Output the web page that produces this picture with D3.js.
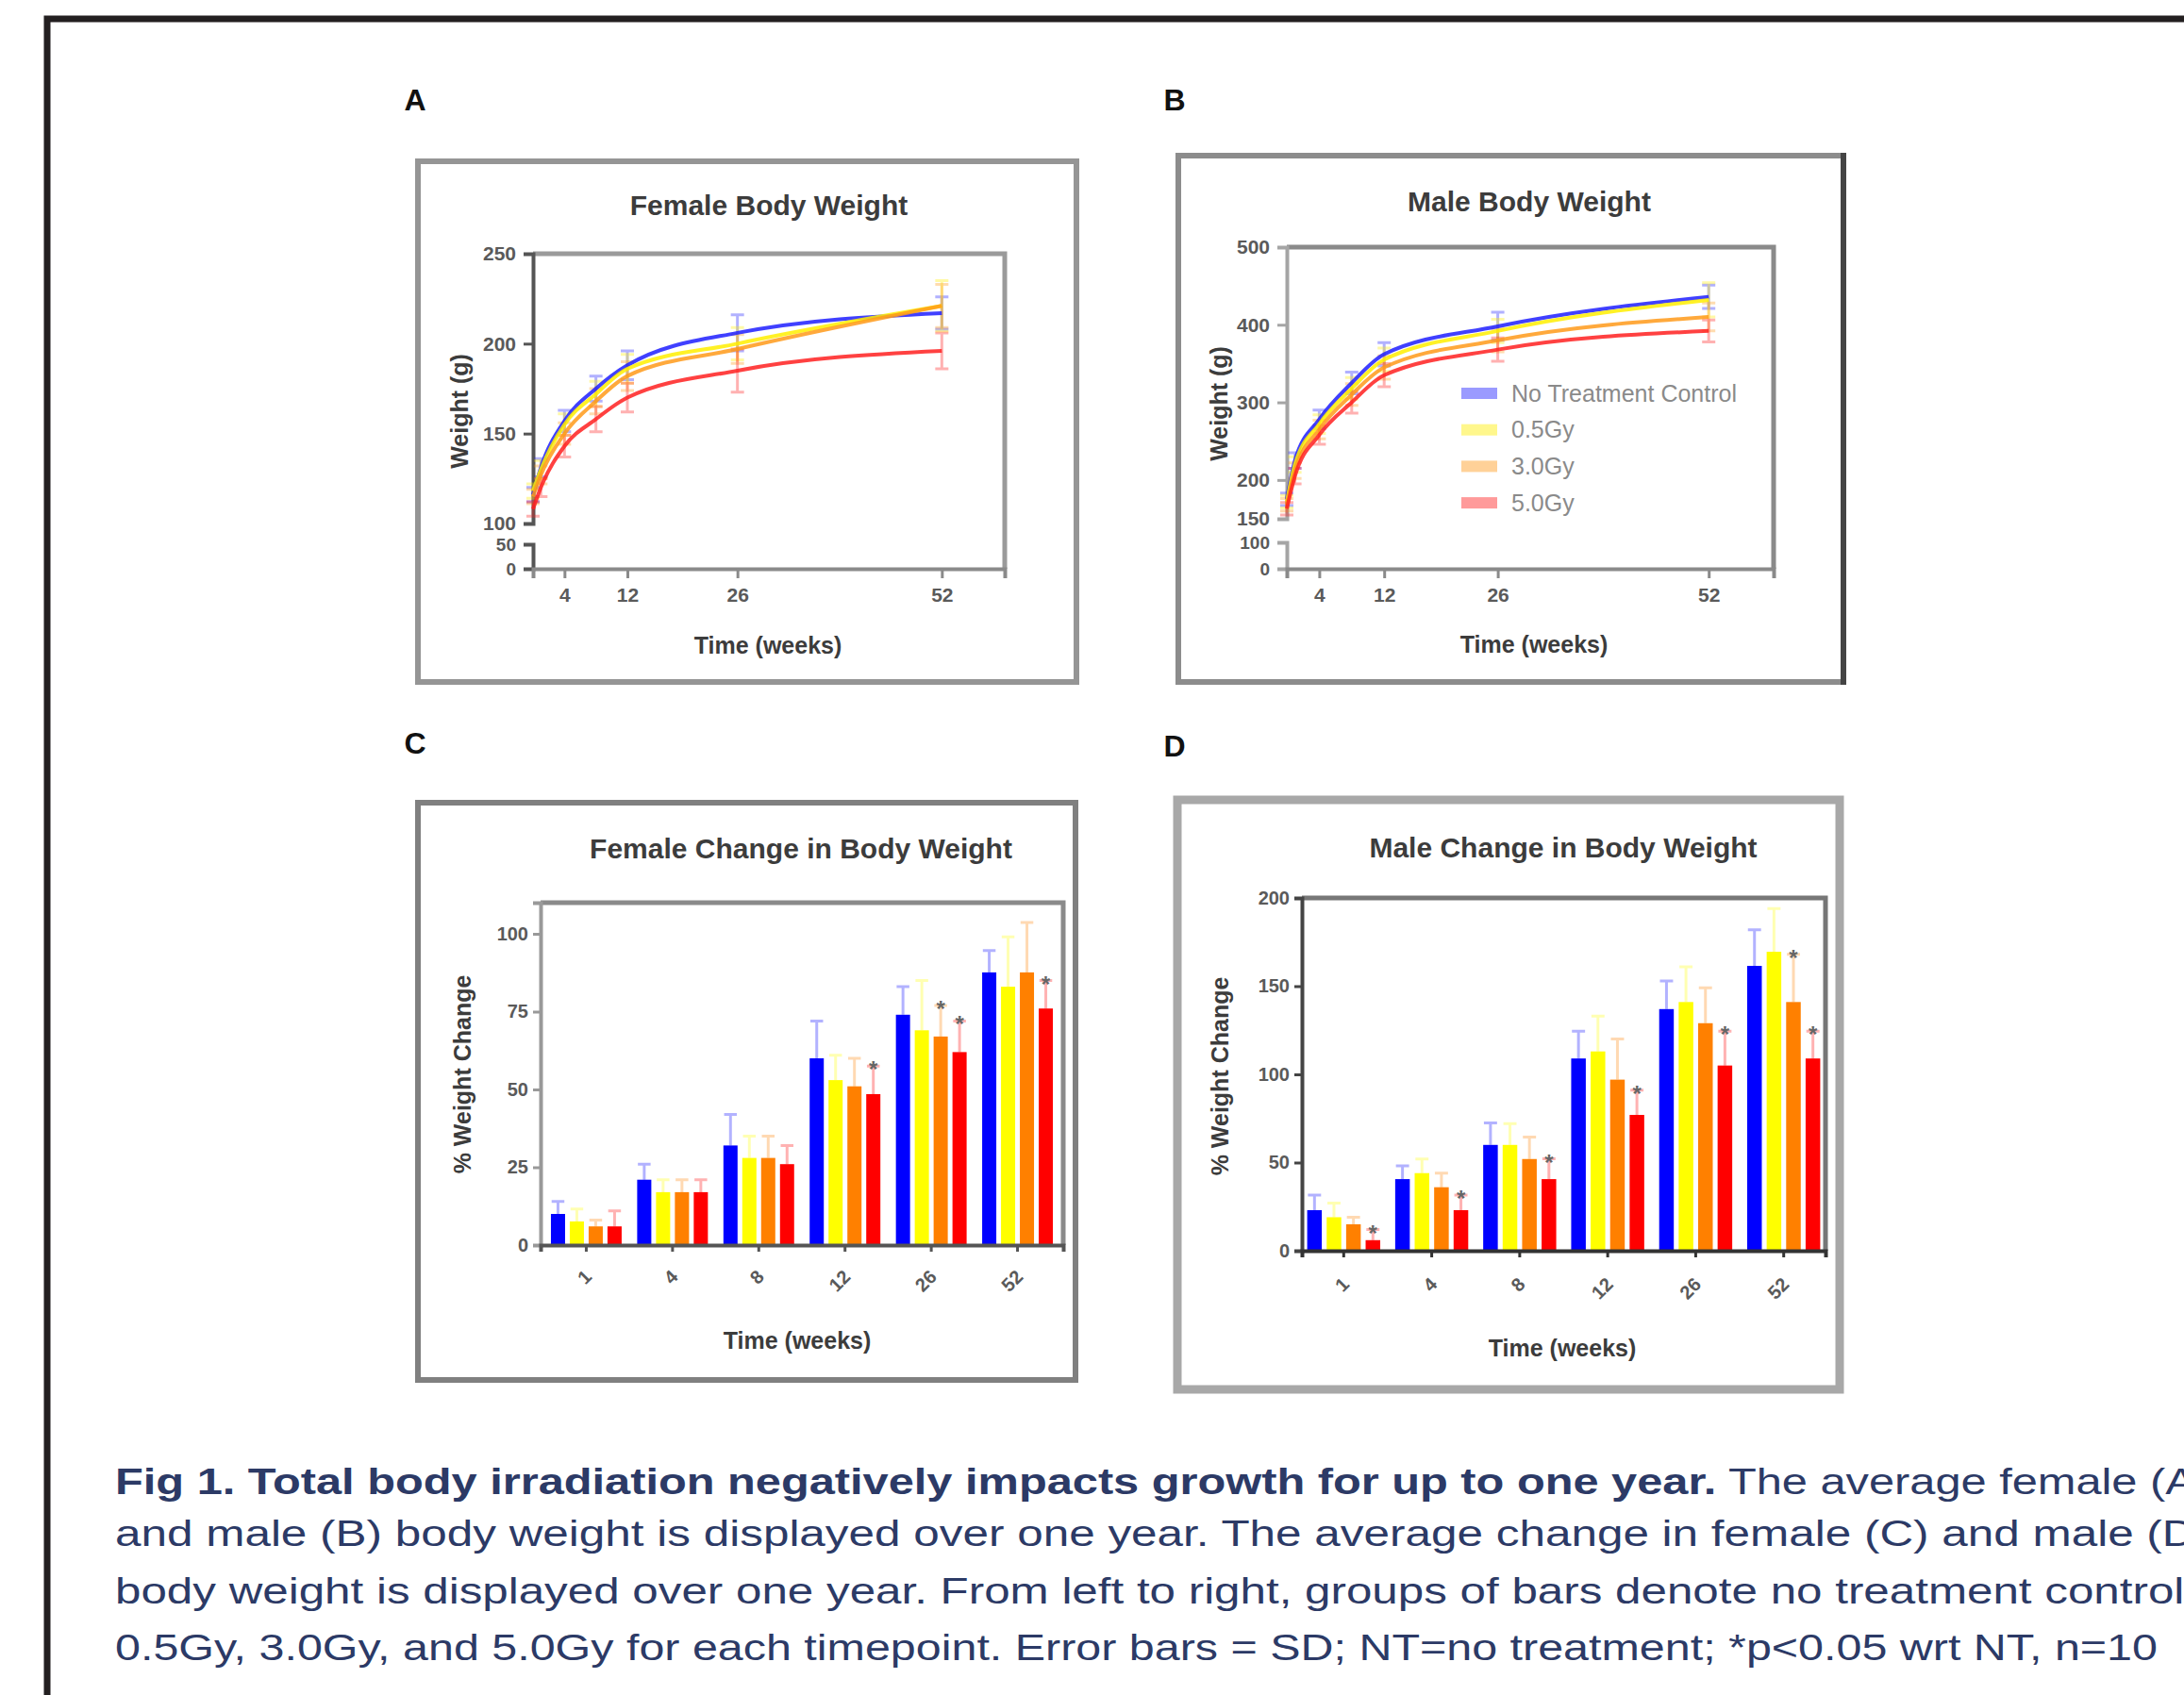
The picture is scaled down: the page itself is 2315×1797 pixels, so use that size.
<!DOCTYPE html>
<html>
<head>
<meta charset="utf-8">
<script src="https://cdn.jsdelivr.net/npm/d3@7"></script>
<style>
  body { margin: 0; background: #fff; }
  svg { display: block; }
  text { font-family: "Liberation Sans", Arial, sans-serif; }
</style>
</head>
<body>
<svg id="fig" width="2315" height="1797"></svg>
<script>
// ---- data ----
var groupNames = ["No Treatment Control", "0.5Gy", "3.0Gy", "5.0Gy"];
var groupColors = ["#1f1fff", "#ffee00", "#ff9a1a", "#ff2020"];
var barColors = ["#0000ff", "#ffff00", "#ff8000", "#ff0000"];

// body weight (g) at each week, one array per group
var lineWeeks = [0, 1, 4, 8, 12, 26, 52];
var weekTicks = [4, 12, 26, 52];
var femaleWeight = [
  [116, 131, 157, 175, 188, 206, 217],
  [118, 130, 155, 172, 186, 200, 221],
  [115, 127, 150, 168, 182, 197, 221],
  [108, 120, 143, 158, 170, 185, 196]
];
var femaleWeightSD = [
  [4, 5, 6, 7, 8, 10, 9],
  [4, 5, 6, 7, 8, 9, 14],
  [4, 5, 6, 7, 8, 8, 12],
  [4, 5, 6, 7, 8, 12, 10]
];
var maleWeight = [
  [175, 225, 278, 325, 362, 398, 436],
  [172, 220, 272, 318, 355, 392, 432],
  [168, 212, 265, 310, 345, 380, 410],
  [163, 205, 258, 300, 335, 368, 392]
];
var maleWeightSD = [
  [8, 10, 12, 14, 15, 18, 15],
  [8, 10, 12, 14, 15, 15, 22],
  [8, 10, 12, 14, 15, 15, 18],
  [8, 10, 12, 14, 15, 15, 14]
];

// % weight change per time point, one array per group
var barWeeks = ["1", "4", "8", "12", "26", "52"];
var femaleChange = [
  [10, 21, 32, 60, 74, 87.6],
  [7.6, 17, 28, 53, 69, 83],
  [6, 17, 28, 51, 67, 87.6],
  [6, 17, 26, 48.5, 62, 76]
];
var femaleChangeSD = [
  [4, 5, 10, 12, 9, 7],
  [4, 4, 7, 8, 16, 16],
  [2, 4, 7, 9, 10, 16],
  [5, 4, 6, 9, 10, 9]
];
var femaleStars = [
  [0, 0, 0, 0, 0, 0],
  [0, 0, 0, 0, 0, 0],
  [0, 0, 0, 0, 1, 0],
  [0, 0, 0, 1, 1, 1]
];
var maleChange = [
  [23, 40.6, 60, 109, 137, 161.5],
  [19, 44, 60, 113, 141, 169.5],
  [15, 36, 52, 97, 129, 141],
  [6, 23, 40.6, 77, 105, 109]
];
var maleChangeSD = [
  [8.5, 7.5, 12.5, 15.5, 16, 20.5],
  [8, 8, 12, 20, 20, 24.5],
  [4, 8, 12.5, 23, 20, 27],
  [6, 8.5, 11.5, 14, 19.5, 15.5]
];
var maleStars = [
  [0, 0, 0, 0, 0, 0],
  [0, 0, 0, 0, 0, 0],
  [0, 0, 0, 0, 0, 1],
  [1, 1, 1, 1, 1, 1]
];

var captionLines = [
  [["Fig 1.  Total body irradiation negatively impacts growth for up to one year.", "bold"], [" The average female (A)", "normal"]],
  [["and male (B) body weight is displayed over one year.  The average change in female (C) and male (D)", "normal"]],
  [["body weight is displayed over one year. From left to right, groups of bars denote no treatment control,", "normal"]],
  [["0.5Gy, 3.0Gy, and 5.0Gy for each timepoint. Error bars = SD; NT=no treatment; *p<0.05 wrt NT,  n=10", "normal"]]
];

var svg = d3.select("#fig");

// outer frame (runs off the right and bottom edge)
svg.append("rect")
  .attr("x", 50).attr("y", 20).attr("width", 2400).attr("height", 2000)
  .attr("fill", "none").attr("stroke", "#231f20").attr("stroke-width", 7);

function box(x0, y0, x1, y1, stroke, w) {
  svg.append("rect")
    .attr("x", x0).attr("y", y0).attr("width", x1 - x0).attr("height", y1 - y0)
    .attr("fill", "none").attr("stroke", stroke).attr("stroke-width", w);
}

box(443, 171, 1141, 723, "#959595", 6);
box(1249, 165, 1954, 723, "#8c8c8c", 6);
svg.append("line").attr("x1", 1954).attr("x2", 1954).attr("y1", 162).attr("y2", 726)
  .attr("stroke", "#444").attr("stroke-width", 6);
box(443, 851, 1140, 1463, "#808080", 6);
box(1248, 848, 1950, 1473, "#a8a8a8", 9);

// panel letters
[["A", 440, 117], ["B", 1245, 117], ["C", 440, 799], ["D", 1245, 802]].forEach(function(p) {
  svg.append("text").attr("x", p[1]).attr("y", p[2]).attr("text-anchor", "middle")
    .attr("font-size", 32).attr("font-weight", "bold").attr("fill", "#111").text(p[0]);
});

function styleAxis(g, color, size) {
  g.select(".domain").attr("stroke", color).attr("stroke-width", 4);
  g.selectAll(".tick line").attr("stroke", color).attr("stroke-width", 3);
  g.selectAll(".tick text").attr("fill", "#5a5a5a").attr("font-size", size)
    .attr("font-weight", "bold").attr("font-family", '"Liberation Sans", Arial, sans-serif');
}

function titles(o) {
  svg.append("text").attr("x", o.titleX).attr("y", o.titleY).attr("text-anchor", "middle")
    .attr("font-size", 30).attr("font-weight", "bold").attr("fill", "#3c3c3c").text(o.title);
  svg.append("text").attr("x", o.xTitleX).attr("y", o.xTitleY).attr("text-anchor", "middle")
    .attr("font-size", 25).attr("font-weight", "bold").attr("fill", "#3c3c3c").text("Time (weeks)");
  svg.append("text").attr("transform", "translate(" + o.yTitleX + "," + o.yTitleY + ") rotate(-90)")
    .attr("text-anchor", "middle").attr("dy", "0.35em")
    .attr("font-size", 25).attr("font-weight", "bold").attr("fill", "#3c3c3c").text(o.yTitle);
}

function linePanel(o, values, sds) {
  var g = svg.append("g");
  var x = d3.scaleLinear().domain([0, 60]).range([o.left, o.right]);
  var yUp = d3.scaleLinear().domain(o.upDomain).range([o.upBottom, o.top]);
  var yLow = d3.scaleLinear().domain(o.lowDomain).range([o.bottom, o.lowTop]);

  // top and right frame
  g.append("path")
    .attr("d", "M" + o.left + "," + o.top + "H" + o.right + "V" + o.bottom)
    .attr("fill", "none").attr("stroke", o.frame).attr("stroke-width", 5);

  var ay = g.append("g").attr("transform", "translate(" + o.left + ",0)")
    .call(d3.axisLeft(yUp).tickValues(o.upTicks).tickSizeOuter(0).tickSize(10).tickPadding(8));
  styleAxis(ay, o.axis, 21);
  var ay2 = g.append("g").attr("transform", "translate(" + o.left + ",0)")
    .call(d3.axisLeft(yLow).tickValues(o.lowTicks).tickSizeOuter(0).tickSize(10).tickPadding(8));
  styleAxis(ay2, o.axis, 19);

  var ax = g.append("g").attr("transform", "translate(0," + o.bottom + ")")
    .call(d3.axisBottom(x).tickValues(weekTicks).tickSizeOuter(0).tickSize(10).tickPadding(10));
  styleAxis(ax, "#8a8a8a", 21);

  var line = d3.line()
    .x(function(d, i) { return x(lineWeeks[i]); })
    .y(function(d) { return yUp(d); })
    .curve(d3.curveMonotoneX);

  values.forEach(function(series, s) {
    series.forEach(function(v, i) {
      var cx = x(lineWeeks[i]);
      var sd = sds[s][i];
      g.append("path")
        .attr("d", "M" + cx + "," + yUp(v - sd) + "V" + yUp(v + sd) +
          "M" + (cx - 7) + "," + yUp(v + sd) + "H" + (cx + 7) +
          "M" + (cx - 7) + "," + yUp(v - sd) + "H" + (cx + 7))
        .attr("fill", "none").attr("stroke", groupColors[s]).attr("stroke-opacity", 0.35)
        .attr("stroke-width", 3);
    });
  });
  values.forEach(function(series, s) {
    g.append("path").datum(series).attr("d", line)
      .attr("fill", "none").attr("stroke", groupColors[s]).attr("stroke-width", 4)
      .attr("stroke-opacity", 0.85);
  });
  titles(o);
  return g;
}

function barPanel(o, means, sds, stars) {
  var g = svg.append("g");
  var x0 = d3.scaleBand().domain(barWeeks).range([o.left, o.right])
    .paddingInner(o.padIn).paddingOuter(o.padOut);
  var x1 = d3.scaleBand().domain(d3.range(4)).range([0, x0.bandwidth()]).paddingInner(0.25);
  var y = d3.scaleLinear().domain(o.yDomain).range([o.bottom, o.top]);

  g.append("path")
    .attr("d", "M" + o.left + "," + o.top + "H" + o.right + "V" + o.bottom)
    .attr("fill", "none").attr("stroke", o.frame).attr("stroke-width", 5);

  means.forEach(function(series, s) {
    series.forEach(function(v, j) {
      var bx = x0(barWeeks[j]) + x1(s);
      var bw = x1.bandwidth();
      var cx = bx + bw / 2;
      var top = y(v + sds[s][j]);
      g.append("rect").attr("x", bx).attr("y", y(v)).attr("width", bw)
        .attr("height", y(0) - y(v)).attr("fill", barColors[s]);
      g.append("path")
        .attr("d", "M" + cx + "," + y(v) + "V" + top + "M" + (cx - bw * 0.45) + "," + top + "H" + (cx + bw * 0.45))
        .attr("fill", "none").attr("stroke", barColors[s]).attr("stroke-opacity", 0.3)
        .attr("stroke-width", 3);
      if (stars[s][j]) {
        g.append("text").attr("x", cx).attr("y", top + 12).attr("text-anchor", "middle")
          .attr("font-size", 24).attr("font-weight", "bold").attr("fill", "#666").text("*");
      }
    });
  });

  var ay = g.append("g").attr("transform", "translate(" + o.left + ",0)")
    .call(d3.axisLeft(y).tickValues(o.yTicks).tickSizeOuter(0).tickSize(8).tickPadding(5));
  styleAxis(ay, o.axis, 20);

  var ax = g.append("g").attr("transform", "translate(0," + o.bottom + ")")
    .call(d3.axisBottom(x0).tickSizeOuter(0).tickSize(7));
  styleAxis(ax, o.axisX, 20);
  ax.selectAll(".tick text")
    .attr("x", 0).attr("y", 0).attr("dy", "0.35em")
    .attr("text-anchor", "end")
    .attr("transform", "translate(2," + o.labelOff + ") rotate(-45)");
  titles(o);
  return g;
}

linePanel({
  left: 565, right: 1065, top: 269, bottom: 603, upBottom: 555, lowTop: 577,
  upDomain: [100, 250], lowDomain: [0, 50], upTicks: [100, 150, 200, 250], lowTicks: [0, 50],
  frame: "#9a9a9a", axis: "#555",
  title: "Female Body Weight", titleX: 815, titleY: 228,
  xTitleX: 814, xTitleY: 693, yTitle: "Weight (g)", yTitleX: 487, yTitleY: 436
}, femaleWeight, femaleWeightSD);

var male = linePanel({
  left: 1364, right: 1880, top: 262, bottom: 603, upBottom: 550, lowTop: 575,
  upDomain: [150, 500], lowDomain: [0, 100], upTicks: [150, 200, 300, 400, 500], lowTicks: [0, 100],
  frame: "#8a8a8a", axis: "#a5a5a5",
  title: "Male Body Weight", titleX: 1621, titleY: 224,
  xTitleX: 1626, xTitleY: 692, yTitle: "Weight (g)", yTitleX: 1292, yTitleY: 428
}, maleWeight, maleWeightSD);

// legend inside the male panel
groupNames.forEach(function(name, i) {
  var ly = 417 + i * 38.7;
  male.append("rect").attr("x", 1549).attr("y", ly - 6).attr("width", 38).attr("height", 12)
    .attr("fill", groupColors[i]).attr("fill-opacity", 0.45);
  male.append("text").attr("x", 1602).attr("y", ly).attr("dy", "0.35em")
    .attr("font-size", 25).attr("fill", "#8a8a8a").text(name);
});

barPanel({
  left: 573, right: 1127, top: 957, bottom: 1320, padIn: 0.18, padOut: 0.12,
  yDomain: [0, 110], yTicks: [0, 25, 50, 75, 100], frame: "#8a8a8a", axis: "#999", axisX: "#555",
  labelOff: 30,
  title: "Female Change in Body Weight", titleX: 849, titleY: 910,
  xTitleX: 845, xTitleY: 1430, yTitle: "% Weight Change", yTitleX: 490, yTitleY: 1139
}, femaleChange, femaleChangeSD, femaleStars);

barPanel({
  left: 1380, right: 1935, top: 952, bottom: 1326, padIn: 0.17, padOut: 0.06,
  yDomain: [0, 200], yTicks: [0, 50, 100, 150, 200], frame: "#777", axis: "#444", axisX: "#333",
  labelOff: 32,
  title: "Male Change in Body Weight", titleX: 1657, titleY: 909,
  xTitleX: 1656, xTitleY: 1438, yTitle: "% Weight Change", yTitleX: 1293, yTitleY: 1141
}, maleChange, maleChangeSD, maleStars);

// caption
var capBase = [1584, 1639, 1700, 1760];
var capLen = [2222, 2222, 2207, 2165];
captionLines.forEach(function(parts, i) {
  var t = svg.append("text").attr("x", 122).attr("y", capBase[i])
    .attr("font-size", 38).attr("fill", "#2c3a66")
    .attr("textLength", capLen[i]).attr("lengthAdjust", "spacingAndGlyphs");
  parts.forEach(function(p) {
    t.append("tspan").attr("font-weight", p[1]).text(p[0]);
  });
});
</script>
</body>
</html>
